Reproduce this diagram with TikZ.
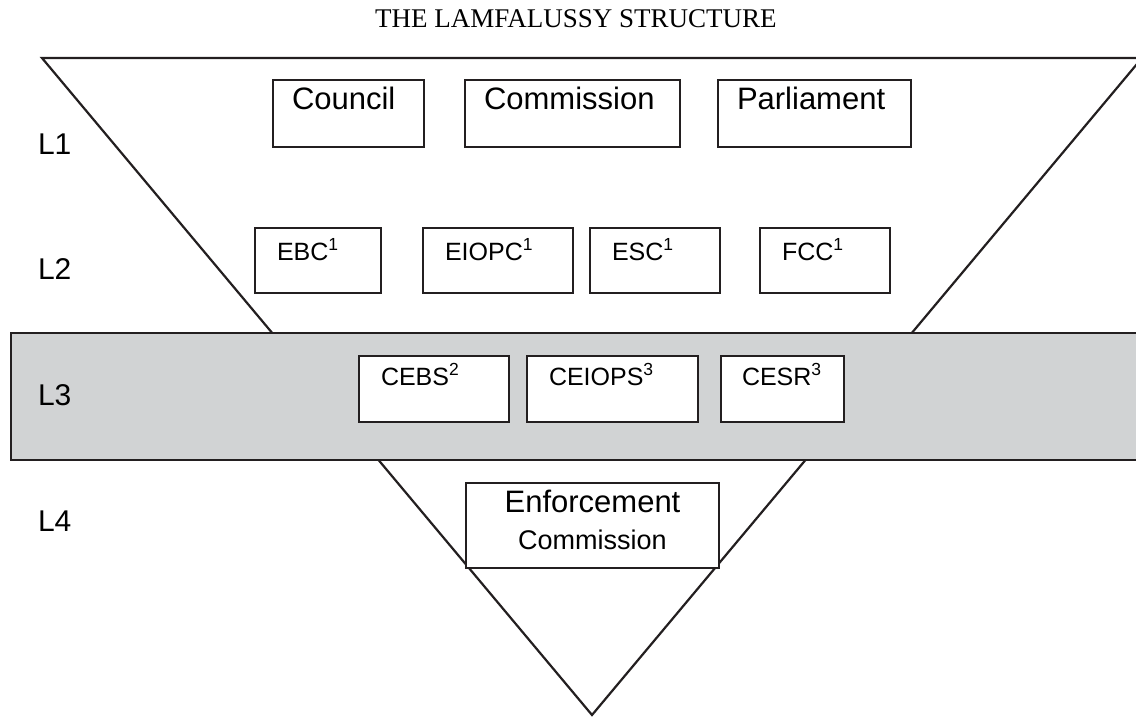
\documentclass[tikz,border=0pt]{standalone}
\usepackage{fontspec}
\setmainfont{Liberation Sans}
\newfontfamily\titlefont{Liberation Serif}
\usetikzlibrary{positioning}
\definecolor{bandgrey}{RGB}{209,211,212}
\definecolor{inkline}{RGB}{35,31,32}

\begin{document}
\begin{tikzpicture}[
  x=1pt, y=-1pt,
  node distance=40pt,
  every node/.style={inner sep=0pt, outer sep=0pt},
  edge/.style={draw=inkline, line width=2.2pt},
  box/.style={
    edge, fill=white, minimum height=67pt,
    inner xsep=19pt, align=left,
    text height=29pt, text depth=38pt,
    font=\fontsize{31}{36}\selectfont
  },
  committee/.style={
    box, minimum height=65pt, inner xsep=22pt,
    text height=32pt, text depth=33pt,
    font=\fontsize{25}{30}\selectfont
  },
  agency/.style={committee, minimum height=66pt, text height=29pt, text depth=37pt},
  level/.style={anchor=base west, font=\fontsize{30}{36}\selectfont}
]
  \useasboundingbox (0,0) rectangle (1136,716);

  % Titolo
  \node[anchor=base, font=\titlefont\fontsize{27}{30}\selectfont] (title) at (576,27) {THE LAMFALUSSY STRUCTURE};

  % Triangolo rovesciato
  \coordinate (tl) at (42,58);
  \coordinate (tr) at (1142,58);
  \coordinate (apex) at (592,715);
  \draw[edge] (tl) -- (tr) -- (apex) -- cycle;

  % Livello 1
  \node[box, text width=113pt] (council) at (348.5,113.5) {Council};
  \node[box, text width=177pt, right=41pt of council] (commission) {Commission};
  \node[box, text width=155pt, right=38pt of commission] (parliament) {Parliament};

  % Livello 2
  \node[committee, text width=82pt] (ebc) at (318,260.5) {EBC\textsuperscript{1}};
  \node[committee, text width=106pt, right=42pt of ebc] (eiopc) {EIOPC\textsuperscript{1}};
  \node[committee, text width=86pt, right=17pt of eiopc] (esc) {ESC\textsuperscript{1}};
  \node[committee, text width=86pt, right=40pt of esc] (fcc) {FCC\textsuperscript{1}};

  % Fascia grigia del livello 3
  \draw[edge, fill=bandgrey] (11,333) rectangle (1150,460);
  \node[agency, text width=106pt] (cebs) at (434,389) {CEBS\textsuperscript{2}};
  \node[agency, text width=127pt, right=18pt of cebs] (ceiops) {CEIOPS\textsuperscript{3}};
  \node[agency, text width=81pt, inner xsep=21pt, right=23pt of ceiops] (cesr) {CESR\textsuperscript{3}};

  % Livello 4
  \node[edge, fill=white, minimum width=253pt, minimum height=85pt, align=center,
        text depth=12pt] (enforce) at (592.5,525.5)
    {\fontsize{31}{32}\selectfont Enforcement\\[16pt]\fontsize{27}{32}\selectfont Commission};

  % Etichette dei livelli
  \node[level] (l1) at (38,154) {L1};
  \node[level] (l2) at (38,279) {L2};
  \node[level] (l3) at (38,405) {L3};
  \node[level] (l4) at (38,531) {L4};

\end{tikzpicture}
\end{document}
